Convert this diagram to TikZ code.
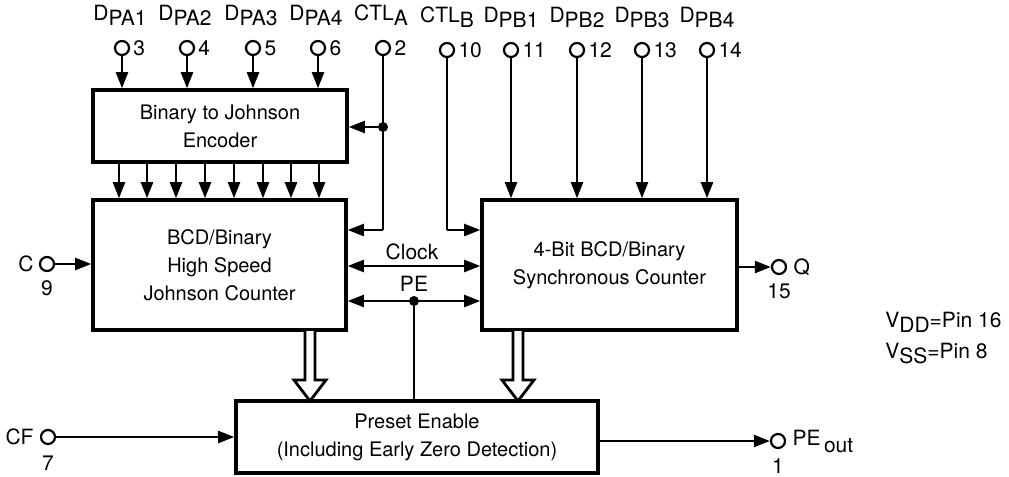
\documentclass[tikz,border=0pt]{standalone}
\usepackage{fontspec}
\setmainfont{TeX Gyre Heros}
\usetikzlibrary{arrows.meta,calc}
\newcommand\lsub[1]{\raisebox{-2.6pt}{#1}}
\begin{document}
\begin{tikzpicture}[x=0.5pt,y=-0.5pt,
  box/.style={draw, line width=1.8pt, align=center, font=\fontsize{10}{14}\selectfont, inner sep=0pt},
  pinc/.style={circle, draw, line width=1.1pt, minimum size=7pt, inner sep=0pt, fill=white},
  wire/.style={line width=1.1pt},
  arr/.style={wire, -{Triangle[length=8pt,width=6pt]}},
  darr/.style={wire, {Triangle[length=8pt,width=6pt]}-{Triangle[length=8pt,width=6pt]}},
  txt/.style={font=\fontsize{10.5}{12}\selectfont, inner sep=0pt},
  jdot/.style={circle, fill, minimum size=5pt, inner sep=0pt},
  bus/.style={line width=1.4pt, fill=white, line join=miter}
]
\useasboundingbox (0,0) rectangle (1009,477);

% boxes
\node[box, minimum width=127pt, minimum height=36pt] (enc) at (220,126) {Binary to Johnson\\Encoder};
\node[box, minimum width=126.5pt, minimum height=65pt] (jc) at (219.5,265) {BCD/Binary\\High Speed\\Johnson Counter};
\node[box, minimum width=127.5pt, minimum height=65pt] (bcd) at (609.5,265) {4-Bit BCD/Binary\\Synchronous Counter};
\node[box, minimum width=181pt, minimum height=36pt] (pre) at (417,437) {Preset Enable\\(Including Early Zero Detection)};

% top pins A side
\foreach \n/\x/\lab in {3/122/D\lsub{PA1}, 4/187/D\lsub{PA2}, 5/253/D\lsub{PA3}, 6/318/D\lsub{PA4}, 2/383/CTL\lsub{A}}{
  \node[pinc] (p\n) at (\x,48) {};
  \node[txt, anchor=west, xshift=1.5pt] (n\n) at (p\n.east) {\n};
  \node[txt, anchor=base] (l\n) at (\x-2,20) {\lab};
}
% top pins B side
\foreach \n/\x/\lab in {10/447/CTL\lsub{B}, 11/511/D\lsub{PB1}, 12/577/D\lsub{PB2}, 13/642/D\lsub{PB3}, 14/707/D\lsub{PB4}}{
  \node[pinc] (p\n) at (\x,50) {};
  \node[txt, anchor=west, xshift=1.5pt] (n\n) at (p\n.east) {\n};
  \node[txt, anchor=base] (l\n) at (\x,22) {\lab};
}

% data inputs
\foreach \n in {3,4,5,6}{\draw[arr] (p\n) -- (p\n |- enc.north);}
\foreach \n in {11,12,13,14}{\draw[arr] (p\n) -- (p\n |- bcd.north);}

% CTL A
\coordinate (ca) at (383,230);
\node[jdot] (ja) at (383,127) {};
\draw[wire] (p2) -- (ca);
\draw[arr] (ca) -- (ca -| jc.east);
\draw[arr] (ja) -- (ja -| enc.east);

% CTL B
\coordinate (cb) at (447,230);
\draw[wire] (p10) -- (cb);
\draw[arr] (cb) -- (cb -| bcd.west);

% encoder to johnson
\foreach \x in {119,147,176,205,234,263,291,319}{
  \coordinate (e\x) at (\x,163);
  \draw[arr] (e\x |- enc.south) -- (e\x |- jc.north);
}

% clock and PE
\coordinate (ck) at (414,266);
\draw[darr] (ck -| jc.east) -- (ck -| bcd.west);
\node[txt] (clk) at (412,252) {Clock};
\node[jdot] (jpe) at (414,301) {};
\draw[darr] (jpe -| jc.east) -- (jpe -| bcd.west);
\node[txt] (pel) at (414,284) {PE};
\draw[wire] (jpe) -- (jpe |- pre.north);

% C pin
\node[pinc] (pc) at (47,264) {};
\node[txt, anchor=east, xshift=-2.5pt] (lc) at (pc.west) {C};
\node[txt, anchor=north, yshift=-4pt] (nc) at (pc.south) {9};
\draw[arr] (pc) -- (pc -| jc.west);

% Q pin
\node[pinc] (pq) at (779,267) {};
\node[txt, anchor=west, xshift=3pt] (lq) at (pq.east) {Q};
\node[txt, anchor=north, yshift=-4pt] (nq) at (pq.south) {15};
\draw[arr] (pq -| bcd.east) -- (pq);

% CF pin
\node[pinc] (pcf) at (48,437) {};
\node[txt, anchor=east, xshift=-3pt] (lcf) at (pcf.west) {CF};
\node[txt, anchor=north, yshift=-5pt] (ncf) at (pcf.south) {7};
\draw[arr] (pcf) -- (pcf -| pre.west);

% PE out pin
\node[pinc] (ppe) at (778,441) {};
\node[txt, anchor=west, xshift=3pt] (lpe) at (ppe.east) {PE\,\raisebox{-3.5pt}{out}};
\node[txt, anchor=north, yshift=-4.5pt] (npe) at (ppe.south) {1};
\draw[arr] (ppe -| pre.east) -- (ppe);

% supply note
\node[txt, anchor=base west] (vdd) at (885,327) {V\lsub{DD}=Pin 16};
\node[txt, anchor=base west] (vss) at (885,358) {V\lsub{SS}=Pin 8};

% bus arrows
\draw[bus] (305,331) -- (305,380) -- (294,380) -- (310,401) -- (326,380) -- (315,380) -- (315,331);
\draw[bus] (513,331) -- (513,380) -- (502,380) -- (518,401) -- (534,380) -- (523,380) -- (523,331);
\end{tikzpicture}
\end{document}
